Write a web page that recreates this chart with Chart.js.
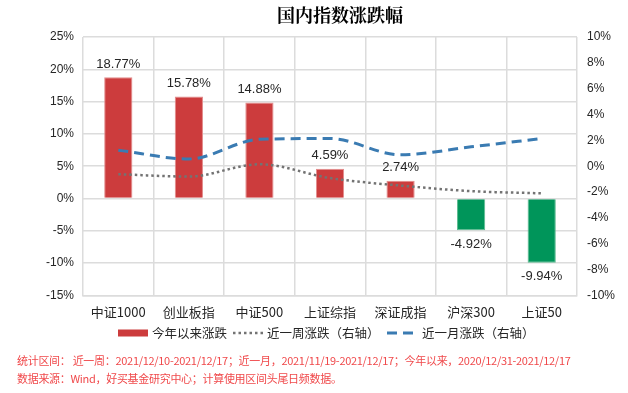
<!DOCTYPE html>
<html>
<head>
<meta charset="utf-8">
<script src="https://cdn.jsdelivr.net/npm/chart.js"></script>
<style>
    html, body { margin: 0; padding: 0; background: #fff; }
    .wrap { position: relative; width: 628px; height: 393px; }
    #chart { position: absolute; left: 0; top: 0; }
    .note {
        position: absolute; left: 17px;
        font-family: 'Noto Sans CJK SC', sans-serif;
        font-size: 11px; color: #F0494B; white-space: nowrap;
        letter-spacing: -0.3px;
    }
</style>
</head>
<body>
<div class="wrap">
    <canvas id="chart" width="628" height="393"></canvas>
    <div class="note" style="top: 352px;">统计区间：&nbsp;近一周：2021/12/10-2021/12/17；近一月，2021/11/19-2021/12/17；今年以来，2020/12/31-2021/12/17</div>
    <div class="note" style="top: 370px;">数据来源：Wind，好买基金研究中心；计算使用区间头尾日频数据。</div>
</div>
<script>
const categories = ['中证1000', '创业板指', '中证500', '上证综指', '深证成指', '沪深300', '上证50'];
const ytdChange = [18.77, 15.78, 14.88, 4.59, 2.74, -4.92, -9.94];
const weekChange = [-0.62, -0.8, 0.15, -0.92, -1.5, -1.93, -2.1];
const monthChange = [1.24, 0.56, 2.08, 2.14, 0.88, 1.5, 2.14];
const leftTicks = [25, 20, 15, 10, 5, 0, -5, -10, -15];
const rightTicks = [10, 8, 6, 4, 2, 0, -2, -4, -6, -8, -10];

const numFont = "'Liberation Sans', sans-serif";
const cjkFont = "'Noto Sans CJK SC', sans-serif";
const RED = '#CC3C3D';
const GREEN = '#00955A';

// labels above / below the bars
const barLabels = {
    id: 'barLabels',
    afterDatasetsDraw(chart) {
        const ctx = chart.ctx;
        const meta = chart.getDatasetMeta(0);
        ctx.save();
        ctx.font = '13px ' + numFont;
        ctx.fillStyle = '#262626';
        ctx.textAlign = 'center';
        ctx.textBaseline = 'middle';
        meta.data.forEach((bar, i) => {
            const v = ytdChange[i];
            const y = v >= 0 ? bar.y - 13 : bar.y + 14;
            ctx.fillText(v.toFixed(2) + '%', bar.x, y);
        });
        ctx.restore();
    }
};

// title and legend drawn by hand to match the original layout
const extras = {
    id: 'extras',
    afterDraw(chart) {
        const ctx = chart.ctx;
        ctx.save();
        ctx.font = 'bold 18px ' + "'Noto Serif CJK SC', 'Noto Sans CJK SC', serif";
        ctx.fillStyle = '#000';
        ctx.textAlign = 'center';
        ctx.textBaseline = 'middle';
        ctx.fillText('国内指数涨跌幅', 340, 15);

        const ly = 333;
        ctx.font = '12.5px ' + cjkFont;
        ctx.textAlign = 'left';
        const ds = chart.data.datasets;
        // bar item
        ctx.fillStyle = RED;
        ctx.fillRect(118, ly - 3.5, 30, 7);
        ctx.fillStyle = '#262626';
        ctx.fillText(ds[0].label, 152, ly);
        // dotted line item
        ctx.strokeStyle = ds[1].borderColor;
        ctx.lineWidth = 2.5;
        ctx.setLineDash(ds[1].borderDash);
        ctx.beginPath(); ctx.moveTo(233, ly); ctx.lineTo(263, ly); ctx.stroke();
        ctx.fillText(ds[1].label, 267, ly);
        // dashed line item
        ctx.strokeStyle = ds[2].borderColor;
        ctx.lineWidth = 3;
        ctx.setLineDash(ds[2].borderDash);
        ctx.beginPath(); ctx.moveTo(387, ly); ctx.lineTo(417, ly); ctx.stroke();
        ctx.fillText(ds[2].label, 422, ly);
        ctx.restore();
    }
};

const ctx = document.getElementById('chart').getContext('2d');
new Chart(ctx, {
    data: {
        labels: categories,
        datasets: [
            {
                type: 'bar',
                label: '今年以来涨跌',
                data: ytdChange,
                yAxisID: 'y',
                backgroundColor: ytdChange.map(v => v >= 0 ? RED : GREEN),
                borderColor: ytdChange.map(v => v >= 0 ? '#E38C8C' : '#5DBB90'),
                borderWidth: 1,
                barPercentage: 0.4,
                categoryPercentage: 1,
                order: 3
            },
            {
                type: 'line',
                label: '近一周涨跌（右轴）',
                data: weekChange,
                yAxisID: 'y1',
                borderColor: '#737373',
                borderWidth: 2.5,
                borderDash: [2.5, 3],
                pointRadius: 0,
                tension: 0.4,
                cubicInterpolationMode: 'monotone',
                order: 2
            },
            {
                type: 'line',
                label: '近一月涨跌（右轴）',
                data: monthChange,
                yAxisID: 'y1',
                borderColor: '#3A7BB2',
                borderWidth: 3,
                borderDash: [10, 6],
                pointRadius: 0,
                tension: 0.4,
                cubicInterpolationMode: 'monotone',
                order: 1
            }
        ]
    },
    options: {
        responsive: false,
        animation: false,
        layout: { padding: { left: 37, right: 3, top: 37, bottom: 64 } },
        plugins: {
            legend: { display: false },
            title: { display: false },
            tooltip: { enabled: false }
        },
        scales: {
            x: {
                grid: { color: '#DCDCDC', lineWidth: 1.5, drawTicks: false },
                border: { color: '#DCDCDC', width: 1.5 },
                ticks: {
                    color: '#262626',
                    font: { size: 13, family: cjkFont },
                    padding: 9,
                    maxRotation: 0
                }
            },
            y: {
                position: 'left',
                min: -15, max: 25,
                afterBuildTicks: axis => { axis.ticks = leftTicks.map(v => ({ value: v })); },
                grid: { color: '#DCDCDC', lineWidth: 1.5, drawTicks: false },
                border: { display: false },
                ticks: {
                    color: '#262626',
                    font: { size: 12, family: numFont },
                    padding: 9,
                    callback: v => v + '%'
                }
            },
            y1: {
                position: 'right',
                min: -10, max: 10,
                afterBuildTicks: axis => { axis.ticks = rightTicks.map(v => ({ value: v })); },
                grid: { display: false, drawTicks: false },
                border: { display: false },
                ticks: {
                    color: '#262626',
                    font: { size: 12, family: numFont },
                    padding: 10,
                    callback: v => v + '%'
                }
            }
        }
    },
    plugins: [barLabels, extras]
});
</script>
</body>
</html>
